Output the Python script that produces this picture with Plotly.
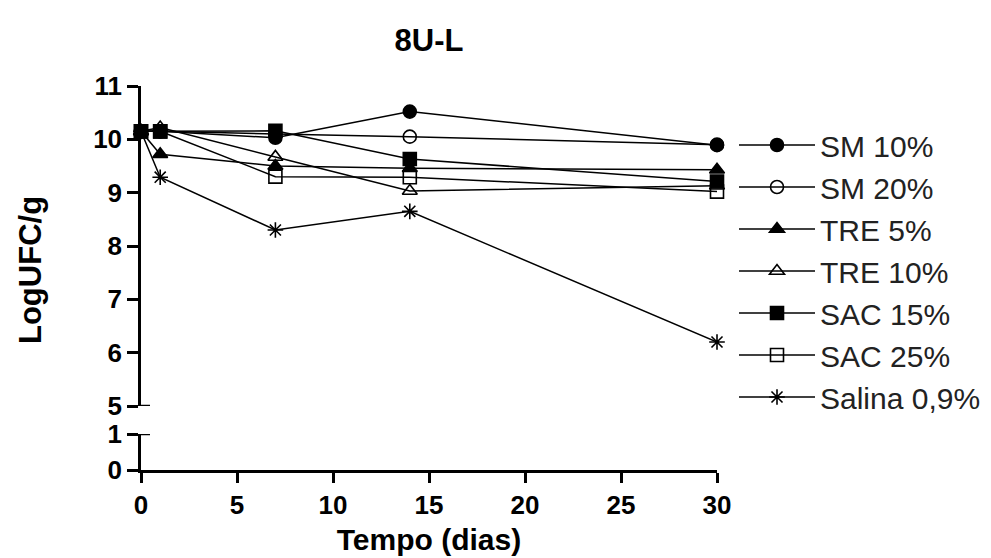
import plotly.graph_objects as go

# Sampling days
dias = [0, 1, 7, 14, 30]

# Log UFC/g for each formulation
sm_10 = [10.15, 10.15, 10.03, 10.52, 9.89]
sm_20 = [10.15, 10.15, 10.10, 10.05, 9.90]
tre_5 = [10.15, 9.72, 9.50, 9.46, 9.43]
tre_10 = [10.15, 10.22, 9.67, 9.03, 9.13]
sac_15 = [10.15, 10.15, 10.16, 9.63, 9.21]
sac_25 = [10.15, 10.15, 9.30, 9.29, 9.02]
salina = [10.15, 9.29, 8.30, 8.65, 6.20]

series = [
    ("SM 10%", sm_10, "circle"),
    ("SM 20%", sm_20, "circle-open"),
    ("TRE 5%", tre_5, "triangle-up"),
    ("TRE 10%", tre_10, "triangle-up-open"),
    ("SAC 15%", sac_15, "square"),
    ("SAC 25%", sac_25, "square-open"),
    ("Salina 0,9%", salina, "asterisk-open"),
]

x_ticks = [0, 5, 10, 15, 20, 25, 30]
upper_ticks = [5, 6, 7, 8, 9, 10, 11]
lower_ticks = [0, 1]

FONT = "Liberation Sans, Arial, sans-serif"

fig = go.Figure()
for name, vals, sym in series:
    fig.add_trace(go.Scatter(
        x=dias, y=vals, name=name, mode="lines+markers",
        xaxis="x", yaxis="y2", cliponaxis=False,
        line=dict(color="black", width=1.5),
        marker=dict(symbol=sym, size=13, color="black",
                    line=dict(color="black", width=1.6)),
    ))

W, H = 991, 558
ml, mr, mt, mb = 141, 274, 86, 88
pw = W - ml - mr
ph = H - mt - mb  # plot height in px
lower_top = 36 / ph
upper_bottom = 64 / ph

axis_common = dict(
    showline=True, linecolor="black", linewidth=2.5,
    ticks="outside", tickwidth=2.5, tickcolor="black",
    showgrid=False, zeroline=False, automargin=False,
    tickfont=dict(family=FONT, size=26, color="black", weight="bold"),
)

fig.update_layout(
    width=W, height=H,
    margin=dict(l=ml, r=mr, t=mt, b=mb, autoexpand=False),
    paper_bgcolor="white", plot_bgcolor="white",
    title=dict(text="<b>8U-L</b>", x=(ml + pw / 2) / W, xanchor="center",
               y=1 - 40 / H, yanchor="middle",
               font=dict(family=FONT, size=31, color="black")),
    xaxis=dict(range=[0, 30], tickvals=x_ticks, anchor="y", domain=[0, 1],
               ticklen=10,
               title=dict(text="<b>Tempo (dias)</b>", standoff=11,
                          font=dict(family=FONT, size=30, color="black")),
               **axis_common),
    yaxis=dict(range=[0, 1], tickvals=lower_ticks, domain=[0, lower_top],
               anchor="x", ticklen=11, **axis_common),
    yaxis2=dict(range=[5, 11], tickvals=upper_ticks, domain=[upper_bottom, 1],
                anchor="x", ticklen=11, **axis_common),
    legend=dict(x=(734 - ml) / pw, xanchor="left", y=1 - (119 - mt) / ph, yanchor="top",
                xref="paper", itemwidth=76, tracegroupgap=0,
                font=dict(family=FONT, size=30, color="#222"),
                bgcolor="rgba(0,0,0,0)"),
    showlegend=True,
)

# y-axis title spanning both segments
fig.add_annotation(text="<b>LogUFC/g</b>", textangle=-90, xref="paper", yref="paper",
                   x=0, y=0.5 + 8 / ph, xanchor="center", yanchor="middle",
                   xshift=-111, showarrow=False,
                   font=dict(family=FONT, size=31, color="black"))

# Break caps at the ends of the two y-axis segments
cap = 9 / pw
for yref, yv in (("y2", 5), ("y", 1)):
    fig.add_shape(type="line", xref="paper", yref=yref, x0=-0.002, x1=cap,
                  y0=yv, y1=yv, line=dict(color="black", width=2.5))

fig.write_html("out.html")
